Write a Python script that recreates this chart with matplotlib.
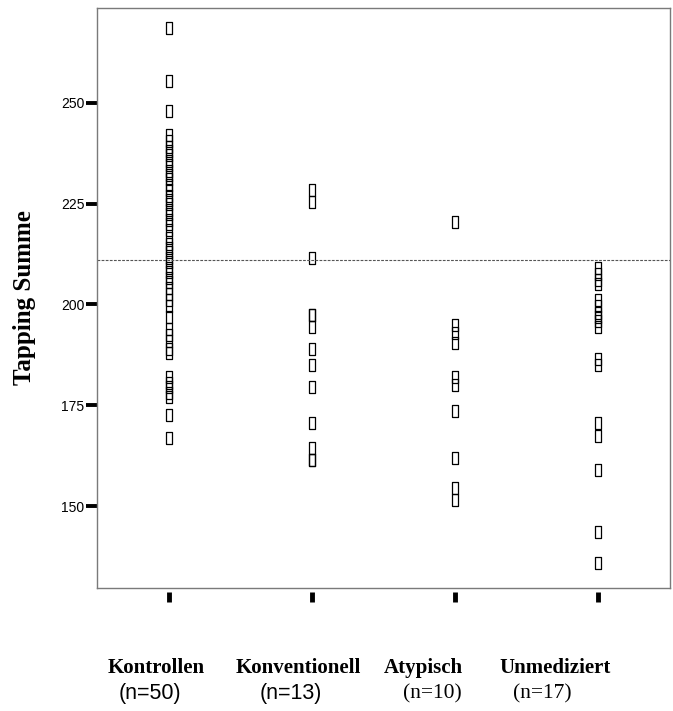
import matplotlib
matplotlib.use("Agg")
import matplotlib.pyplot as plt

# Tapping Summe je Gruppe
kontrollen = [268.5, 255.5, 248, 242,
              240.5, 239, 238, 237, 235.5, 234.5, 233, 232, 231, 229.5,
              228.5, 227, 226, 225, 223.5, 222.5, 221, 220, 218.5,
              216.5, 215, 214, 213, 211.5, 210.5, 209, 208, 206.5,
              205.5, 204, 202.5, 201, 199.5, 197, 194, 192.5, 191, 189, 188,
              182, 180.5, 179.5, 178, 177,
              172.5, 167]
konventionell = [228.5, 225.5, 211.5, 197.5, 197.5, 194.5, 189, 185,
                 179.5, 170.5, 164.5, 161.5, 161.5]
atypisch = [220.5, 195, 193, 190.5, 182, 180, 173.5, 162, 154.5, 151.5]
unmediziert = [209, 207.5, 206, 205, 201, 199.5, 198, 197, 196, 194.5,
               186.5, 185, 170.5, 167.5, 159, 143.5, 136]

gruppen = ["Kontrollen", "Konventionell", "Atypisch", "Unmediziert"]
n_labels = ["(n=50)", "(n=13)", "(n=10)", "(n=17)"]
n_fonts = ["Liberation Sans", "Liberation Sans", "Liberation Serif", "Liberation Serif"]
mittel = 211
yticks = [150, 175, 200, 225, 250]

W, H = 673, 711
fig = plt.figure(figsize=(W / 100, H / 100), dpi=100)
ax = fig.add_axes([97 / W, 1 - 588 / H, (670 - 97) / W, (588 - 8) / H])

box = [(-0.5, -1), (0.5, -1), (0.5, 1), (-0.5, 1), (-0.5, -1)]
for i, vals in enumerate([kontrollen, konventionell, atypisch, unmediziert]):
    ax.plot([i + 1] * len(vals), vals, linestyle="none", marker=box,
            markersize=8.6, markerfacecolor="none", markeredgecolor="black",
            markeredgewidth=0.9)

ax.axhline(mittel, color="#555555", lw=0.8, dashes=(2.5, 1.2))

ax.set_xlim(0.5, 4.5)
ax.set_ylim(129.7, 273.5)
ax.set_xticks([1, 2, 3, 4])
ax.set_xticklabels([])
ax.set_yticks(yticks)
ax.set_yticklabels([str(t) for t in yticks], fontfamily="Liberation Sans", fontsize=10)
ax.tick_params(axis="y", direction="out", length=8, width=2.8, color="black", pad=1)
ax.tick_params(axis="x", direction="out", length=7.5, width=3.5, color="black")
for s in ax.spines.values():
    s.set_color("#7a7a7a")
    s.set_linewidth(1.0)
# x-Ticks etwas abgesetzt vom Rahmen
ax.spines["bottom"].set_position(("outward", 3))
ax.spines["bottom"].set_visible(False)
ax.plot([0, 1], [0, 0], transform=ax.transAxes, color="#7a7a7a", lw=1.0, clip_on=False)

ax.set_ylabel("Tapping Summe", fontfamily="Liberation Serif", fontweight="bold",
              fontsize=18, labelpad=18)

# Gruppenbeschriftung unter der Achse
gx = [156, 298, 423, 555]
nx = [150, 291, 432, 542]
for g, x in zip(gruppen, gx):
    fig.text(x / W, 1 - 668 / H, g, ha="center", va="center",
             fontfamily="Liberation Serif", fontweight="bold", fontsize=15)
for t, x, f in zip(n_labels, nx, n_fonts):
    fig.text(x / W, 1 - 694 / H, t, ha="center", va="center",
             fontfamily=f, fontsize=15.5)

fig.savefig("out.png", dpi=100)
